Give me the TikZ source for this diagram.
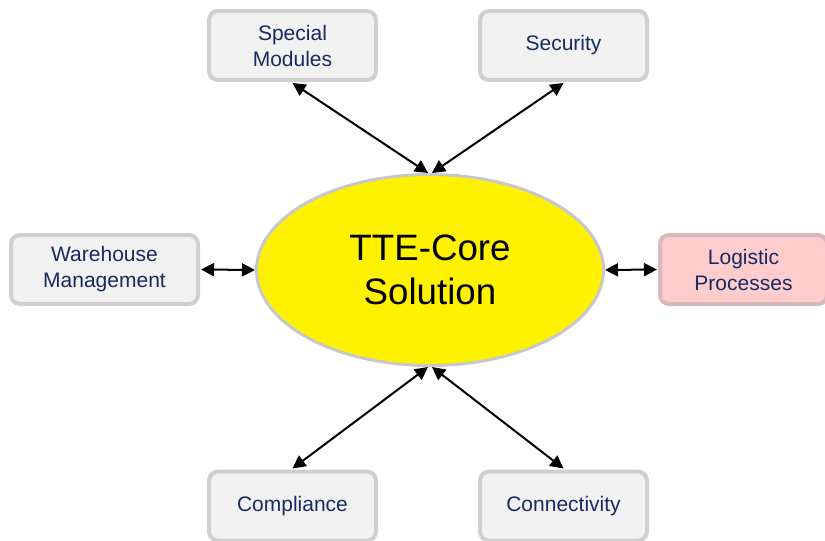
\documentclass[tikz,border=0pt]{standalone}
\usepackage{fontspec}
\setmainfont{Liberation Sans}
\usetikzlibrary{shapes.geometric,arrows.meta}
\definecolor{boxfill}{RGB}{242,242,242}
\definecolor{boxline}{RGB}{208,208,208}
\definecolor{pinkfill}{RGB}{255,204,204}
\definecolor{pinkline}{RGB}{215,185,185}
\definecolor{txtblue}{RGB}{22,42,100}
\definecolor{coreline}{RGB}{200,200,200}
\tikzset{
  modbox/.style={draw=boxline, fill=boxfill, line width=4pt, rounded corners=9pt,
    minimum width=167pt, minimum height=69pt, inner sep=0pt, align=center,
    text=txtblue, font=\fontsize{21}{26}\selectfont},
  conn/.style={draw=black, line width=2pt, {Triangle[length=13pt,width=13pt]}-{Triangle[length=13pt,width=13pt]}}
}
\begin{document}
\begin{tikzpicture}[x=1pt,y=-1pt]
\useasboundingbox (0,0) rectangle (825,541);
\node[ellipse, draw=coreline, fill=yellow, line width=3pt, minimum width=347pt, minimum height=191pt,
  inner sep=0pt, align=center, font=\fontsize{36.7}{44}\selectfont] (core) at (430,270) {TTE-Core\\Solution};
\node[modbox] (sm) at (292.5,45.5) {Special\\Modules};
\node[modbox] (sec) at (563.5,45.5) {Security};
\node[modbox, minimum width=187pt] (wh) at (104.5,269.5) {Warehouse\\Management};
\node[modbox, draw=pinkline, fill=pinkfill] (lp) at (743.5,269.5) {Logistic\\Processes};
\node[modbox] (co) at (292.5,506) {Compliance};
\node[modbox] (cn) at (563.5,506) {Connectivity};
\coordinate (ct1) at ([xshift=-2pt]core.north);
\coordinate (ct2) at ([xshift=2pt]core.north);
\coordinate (cb1) at ([xshift=-2pt]core.south);
\coordinate (cb2) at ([xshift=2pt]core.south);
\draw[conn] ([yshift=-1pt]sm.south) -- (ct1);
\draw[conn] ([yshift=-1pt]sec.south) -- (ct2);
\draw[conn] ([yshift=1pt]co.north) -- (cb1);
\draw[conn] ([yshift=1pt]cn.north) -- (cb2);
\draw[conn] ([xshift=1pt]wh.east) -- (core.west);
\draw[conn] ([xshift=-1pt]lp.west) -- (core.east);
\end{tikzpicture}
\end{document}
